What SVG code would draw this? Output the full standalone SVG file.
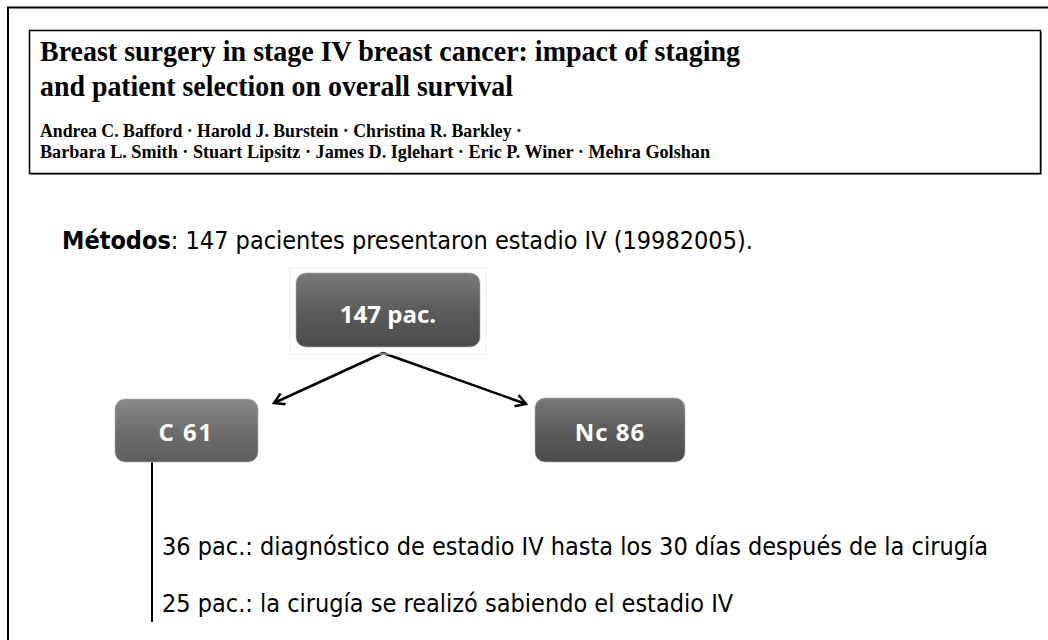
<svg xmlns="http://www.w3.org/2000/svg" width="1048" height="640" viewBox="0 0 1048 640">
<defs>
<style>
.title{font-family:"Liberation Serif",serif;font-weight:bold;font-size:30px;fill:#000}
.auth{font-family:"Liberation Serif",serif;font-weight:bold;font-size:18.5px;fill:#000}
.body{font-family:"DejaVu Sans Condensed","DejaVu Sans",sans-serif;font-size:25px;fill:#000}
.lbl{font-family:"Open Sans","DejaVu Sans",sans-serif;font-weight:bold;font-size:24px;fill:#fff;text-anchor:middle}
.box{stroke:#aaa;stroke-width:1;stroke-dasharray:1.5 1}
.conn{stroke:#000;stroke-width:2.5;fill:none}
</style>
<linearGradient id="g1" x1="0" y1="0" x2="0" y2="1">
<stop offset="0" stop-color="#7a7a7a"/><stop offset="0.5" stop-color="#5c5c5c"/><stop offset="1" stop-color="#4c4c4c"/>
</linearGradient>
<linearGradient id="g2" x1="0" y1="0" x2="0" y2="1">
<stop offset="0" stop-color="#8a8a8a"/><stop offset="0.5" stop-color="#6e6e6e"/><stop offset="1" stop-color="#5e5e5e"/>
</linearGradient>
<marker id="ah" markerWidth="14" markerHeight="14" refX="11" refY="7" orient="auto" markerUnits="userSpaceOnUse">
<path d="M1,1 L11,7 L1,13" fill="none" stroke="#000" stroke-width="2.5"/>
</marker>
</defs>
<rect width="1048" height="640" fill="#fff"/>
<path d="M8,640 V7.5 H1048" fill="none" stroke="#000" stroke-width="2"/>
<g id="header">
<rect x="31" y="32" width="1011" height="143" fill="#999"/>
<rect x="29.5" y="30.5" width="1011" height="143" fill="#fff" stroke="#000" stroke-width="1.5"/>
<text class="title" x="40" y="61" textLength="700" lengthAdjust="spacingAndGlyphs">Breast surgery in stage IV breast cancer: impact of staging</text>
<text class="title" x="40" y="96" textLength="473" lengthAdjust="spacingAndGlyphs">and patient selection on overall survival</text>
<text class="auth" x="40" y="137" textLength="482" lengthAdjust="spacingAndGlyphs">Andrea C. Bafford · Harold J. Burstein · Christina R. Barkley ·</text>
<text class="auth" x="40" y="158" textLength="670" lengthAdjust="spacingAndGlyphs">Barbara L. Smith · Stuart Lipsitz · James D. Iglehart · Eric P. Winer · Mehra Golshan</text>
</g>
<g id="methods">
<text class="body" x="62" y="249"><tspan font-weight="bold">Métodos</tspan>: 147 pacientes presentaron estadio IV (19982005).</text>
</g>
<g id="connectors">
<line class="conn" x1="383" y1="353" x2="274" y2="403" marker-end="url(#ah)"/>
<line class="conn" x1="383" y1="353" x2="526" y2="404" marker-end="url(#ah)"/>
<line x1="152" y1="462" x2="152" y2="622" stroke="#000" stroke-width="2"/>
</g>
<g id="n147">
<rect x="290" y="268" width="196" height="86" fill="none" stroke="#eee"/>
<rect class="box" x="296" y="273" width="184" height="74" rx="10" fill="url(#g1)"/>
<text class="lbl" x="388" y="323">147 pac.</text>
</g>
<g id="nC61">
<rect class="box" x="115" y="399" width="143" height="63" rx="10" fill="url(#g2)"/>
<text class="lbl" x="186" y="441" letter-spacing="1.5">C 61</text>
</g>
<g id="nNc86">
<rect class="box" x="535" y="398" width="150" height="64" rx="10" fill="url(#g1)"/>
<text class="lbl" x="610" y="441" letter-spacing="1">Nc  86</text>
</g>
<g id="notes">
<text class="body" x="162" y="555">36 pac.: diagnóstico de estadio IV hasta los 30 días después de la cirugía</text>
<text class="body" x="162" y="612">25 pac.: la cirugía se realizó sabiendo el estadio IV</text>
</g>
</svg>
